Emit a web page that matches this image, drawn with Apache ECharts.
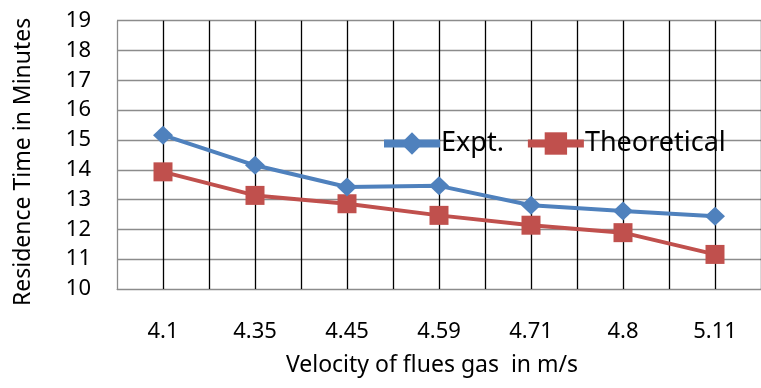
<!DOCTYPE html>
<html>
<head>
<meta charset="utf-8">
<script src="https://cdn.jsdelivr.net/npm/echarts@6/dist/echarts.min.js"></script>
<style>
  html, body { margin: 0; padding: 0; background: #fff; }
  #chart { width: 761px; height: 388px; }
</style>
</head>
<body>
<div id="chart"></div>
<script>
const velocities = ["4.1", "4.35", "4.45", "4.59", "4.71", "4.8", "5.11"];
const expt = [15.16, 14.15, 13.42, 13.46, 12.81, 12.62, 12.44];
const theoretical = [13.93, 13.14, 12.86, 12.47, 12.14, 11.89, 11.16];

const font = "Noto Sans";
// grid lines: first one (left border) grey, the rest black
const vLineColors = ["#8c8c8c"].concat(new Array(14).fill("#000"));

const chart = echarts.init(document.getElementById("chart"));
chart.setOption({
  backgroundColor: "#fff",
  animation: false,
  textStyle: { fontFamily: font },
  grid: { left: 117, top: 20.7, bottom: 99, right: -9 },
  legend: {
    left: 380,
    top: 130,
    padding: 0,
    itemWidth: 56,
    itemHeight: 28,
    itemGap: 20,
    lineStyle: { width: 8 },
    textStyle: { fontSize: 27, color: "#000", fontFamily: font, padding: [0, 0, 0, -4] },
    data: ["Expt.", "Theoretical"]
  },
  xAxis: [
    {
      type: "category",
      data: velocities,
      boundaryGap: true,
      axisLine: { lineStyle: { color: "#8c8c8c", width: 1 } },
      axisTick: { show: false },
      splitLine: { show: false },
      axisLabel: { color: "#000", fontSize: 22, margin: 32 },
      name: "Velocity of flues gas  in m/s",
      nameLocation: "middle",
      nameGap: 65,
      nameTextStyle: { color: "#000", fontSize: 23, padding: [0, 14, 0, 0] }
    },
    {
      type: "value",
      min: 0,
      max: 7,
      interval: 0.5,
      show: true,
      position: "bottom",
      axisLine: { show: false },
      axisTick: { show: false },
      axisLabel: { show: false },
      splitLine: { show: true, lineStyle: { color: vLineColors, width: 1.3 } }
    }
  ],
  yAxis: {
    type: "value",
    min: 10,
    max: 19,
    interval: 1,
    axisLine: { show: false },
    axisTick: { show: false },
    axisLabel: { color: "#000", fontSize: 22, margin: 26 },
    splitLine: { lineStyle: { color: "#8c8c8c", width: 1.3 } },
    name: "Residence Time in Minutes",
    nameLocation: "middle",
    nameGap: 82,
    nameTextStyle: { color: "#000", fontSize: 23, padding: [0, 14, 0, 0] }
  },
  series: [
    {
      name: "Expt.",
      type: "line",
      xAxisIndex: 0,
      data: expt,
      symbol: "diamond",
      symbolSize: [20, 19],
      lineStyle: { color: "#4F81BD", width: 4 },
      itemStyle: { color: "#4F81BD" },
      z: 3
    },
    {
      name: "Theoretical",
      type: "line",
      xAxisIndex: 0,
      data: theoretical,
      symbol: "rect",
      symbolSize: 19,
      lineStyle: { color: "#C0504D", width: 4 },
      itemStyle: { color: "#C0504D" },
      z: 2
    }
  ]
});
</script>
</body>
</html>
